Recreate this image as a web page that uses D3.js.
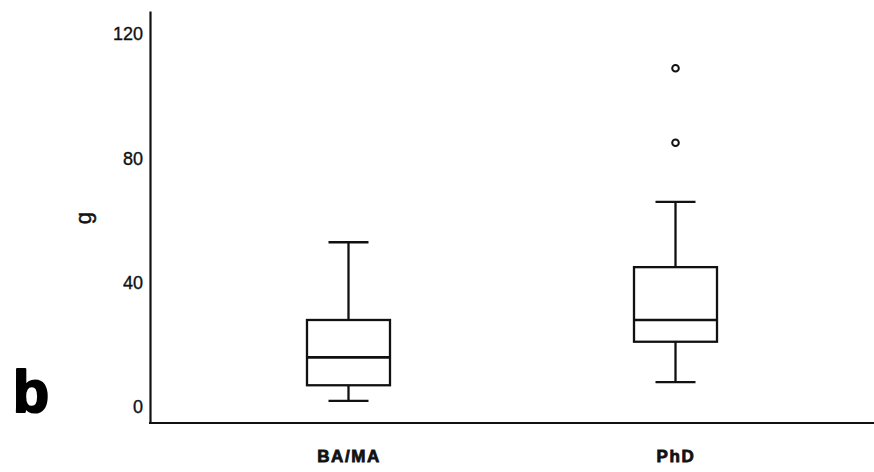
<!DOCTYPE html>
<html>
<head>
<meta charset="utf-8">
<script src="https://cdn.jsdelivr.net/npm/d3@7"></script>
<style>
  html, body { margin: 0; padding: 0; background: #fff; }
  svg { display: block; font-family: "Liberation Sans", Arial, sans-serif; }
</style>
</head>
<body>
<svg id="chart" width="874" height="472"></svg>
<script>
// Box-plot summary per education group
const groups = ["BA/MA", "PhD"];
const lowerWhisker = [2, 8];
const q1 = [7, 21];
const median = [16, 28];
const q3 = [28, 45];
const upperWhisker = [53, 66];
const outliers = [[], [109, 85]];
const yTicks = [0, 40, 80, 120];

const svg = d3.select("#chart");

const x = d3.scalePoint().domain(groups).range([150, 874]).padding(0.607);
const y = d3.scaleLinear().domain([-5.14, 127.4]).range([423, 11]);

const boxW = 83, capW = 40, ink = "#111";

// Axes
const yAxis = svg.append("g")
  .attr("transform", "translate(150,0)")
  .call(d3.axisLeft(y).tickValues(yTicks).tickSize(0).tickSizeOuter(0).tickPadding(7));
yAxis.select(".domain").attr("stroke", ink).attr("stroke-width", 2.2);
yAxis.selectAll("text").attr("font-size", 18).attr("fill", ink)
  .attr("stroke", ink).attr("stroke-width", 0.35);

const xAxis = svg.append("g")
  .attr("transform", "translate(0,423)")
  .call(d3.axisBottom(x).tickSize(0).tickSizeOuter(0).tickPadding(27));
xAxis.select(".domain").attr("stroke", ink).attr("stroke-width", 2.2)
  .attr("d", "M149,0H874");
xAxis.selectAll("text")
  .attr("font-size", 17).attr("font-weight", "bold")
  .attr("letter-spacing", 1.6).attr("fill", ink)
  .attr("stroke", ink).attr("stroke-width", 0.8);

// Boxes
const data = groups.map((g, i) => ({
  g, lo: lowerWhisker[i], q1: q1[i], med: median[i], q3: q3[i], hi: upperWhisker[i], out: outliers[i]
}));

const box = svg.append("g").selectAll("g").data(data).join("g")
  .attr("fill", "none").attr("stroke", ink).attr("stroke-width", 2.3);

box.append("line")
  .attr("x1", d => x(d.g)).attr("x2", d => x(d.g))
  .attr("y1", d => y(d.q3)).attr("y2", d => y(d.hi));
box.append("line")
  .attr("x1", d => x(d.g)).attr("x2", d => x(d.g))
  .attr("y1", d => y(d.q1)).attr("y2", d => y(d.lo));
box.append("line")
  .attr("x1", d => x(d.g) - capW / 2).attr("x2", d => x(d.g) + capW / 2)
  .attr("y1", d => y(d.hi)).attr("y2", d => y(d.hi));
box.append("line")
  .attr("x1", d => x(d.g) - capW / 2).attr("x2", d => x(d.g) + capW / 2)
  .attr("y1", d => y(d.lo)).attr("y2", d => y(d.lo));
box.append("rect")
  .attr("x", d => x(d.g) - boxW / 2).attr("width", boxW)
  .attr("y", d => y(d.q3)).attr("height", d => y(d.q1) - y(d.q3))
  .attr("fill", "#fff");
box.append("line")
  .attr("x1", d => x(d.g) - boxW / 2).attr("x2", d => x(d.g) + boxW / 2)
  .attr("y1", d => y(d.med)).attr("y2", d => y(d.med))
  .attr("stroke-width", 2.7);
box.selectAll("circle").data(d => d.out.map(v => ({ g: d.g, v }))).join("circle")
  .attr("cx", d => x(d.g)).attr("cy", d => y(d.v)).attr("r", 3.3)
  .attr("fill", "#fff").attr("stroke-width", 2);

// Axis title
svg.append("text")
  .attr("transform", "translate(91,218) rotate(-90)")
  .attr("text-anchor", "middle")
  .attr("font-size", 22).attr("fill", ink)
  .attr("stroke", ink).attr("stroke-width", 0.5)
  .text("g");

// Panel letter
svg.append("text")
  .attr("x", 13).attr("y", 412)
  .attr("font-size", 59).attr("font-weight", "bold").attr("fill", "#000")
  .attr("stroke", "#000").attr("stroke-width", 2.2).attr("stroke-linejoin", "round")
  .text("b");
</script>
</body>
</html>
